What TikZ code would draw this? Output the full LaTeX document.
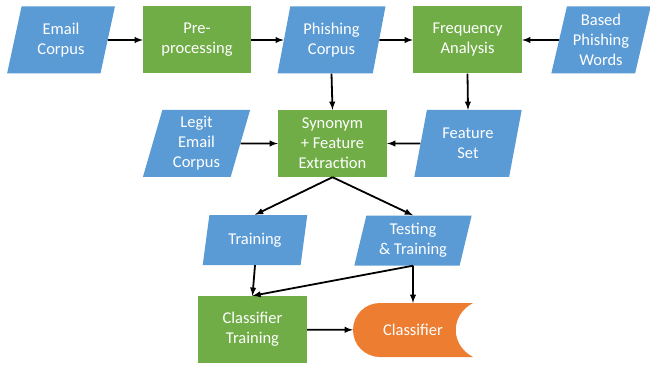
\documentclass[tikz,border=0pt]{standalone}
\usepackage{fontspec}
\setmainfont{Carlito}
\usetikzlibrary{shapes.geometric,arrows.meta}
\tikzset{>=latex}
\definecolor{datacol}{HTML}{5B9BD5}
\definecolor{proccol}{HTML}{70AD47}
\definecolor{clfcol}{HTML}{ED7D31}
\tikzset{
  data/.style={trapezium,trapezium left angle=76,trapezium right angle=104,trapezium stretches=true,fill=datacol,text=white,minimum width=108pt,minimum height=67pt,inner sep=1pt,align=center,font=\fontsize{16.5}{20}\selectfont},
  process/.style={rectangle,fill=proccol,text=white,minimum width=108pt,minimum height=67pt,inner sep=1pt,align=center,font=\fontsize{16.5}{20}\selectfont},
  flow/.style={->,line width=1.8pt},
}
\begin{document}
\begin{tikzpicture}[x=1pt,y=-1pt]
    \useasboundingbox (0,0) rectangle (650,366);
    \node[data] (email) at (61,40) {Email\\Corpus};
    \node[process] (prep) at (197,40) {Pre-\\processing};
    \node[data] (phish) at (331.5,40) {Phishing\\Corpus};
    \node[process,minimum width=109pt] (freq) at (467.5,40) {Frequency\\Analysis};
    \node[data,minimum width=100pt] (words) at (601,40) {Based\\Phishing\\Words};
    \node[data] (legit) at (196.5,143.5) {Legit\\Email\\Corpus};
    \node[process,minimum width=109pt] (synfeat) at (332.5,143.5) {Synonym\\+ Feature\\Extraction};
    \node[data] (featset) at (468,143.5) {Feature\\Set};
    \node[data,minimum width=105pt,minimum height=50pt] (train) at (255,240) {Training};
    \node[data,minimum width=118pt,minimum height=50pt] (test) at (413,240.5) {Testing\\\& Training};
    \node[process,minimum width=109pt] (clftrain) at (252.5,329.5) {Classifier\\Training};
    \fill[clfcol] (380,303) -- (473,303) .. controls (450,315) and (450,345) .. (473,357)
      -- (380,357) .. controls (365,357) and (353,345) .. (353,330)
      .. controls (353,315) and (365,303) .. (380,303) -- cycle;
    \node[text=white,minimum width=120pt,minimum height=54pt,font=\fontsize{16.5}{20}\selectfont] (clf) at (413,330) {Classifier};
    \draw[flow] (email) -- (prep);
    \draw[flow] (prep) -- (phish);
    \draw[flow] (phish) -- (freq);
    \draw[flow] (words) -- (freq);
    \draw[flow] (phish.south) -- (synfeat.north);
    \draw[flow] (freq.south) -- (featset.north);
    \draw[flow] (legit) -- (synfeat);
    \draw[flow] (featset) -- (synfeat);
    \draw[flow] (synfeat.south) -- (train.north);
    \draw[flow] (synfeat.south) -- (test.north);
    \draw[flow] (train.south) -- (clftrain.north);
    \draw[flow] (test.south) -- (clftrain.north);
    \draw[flow] (test.south) -- (clf.north);
    \draw[flow] (clftrain) -- (clf);
\end{tikzpicture}
\end{document}
